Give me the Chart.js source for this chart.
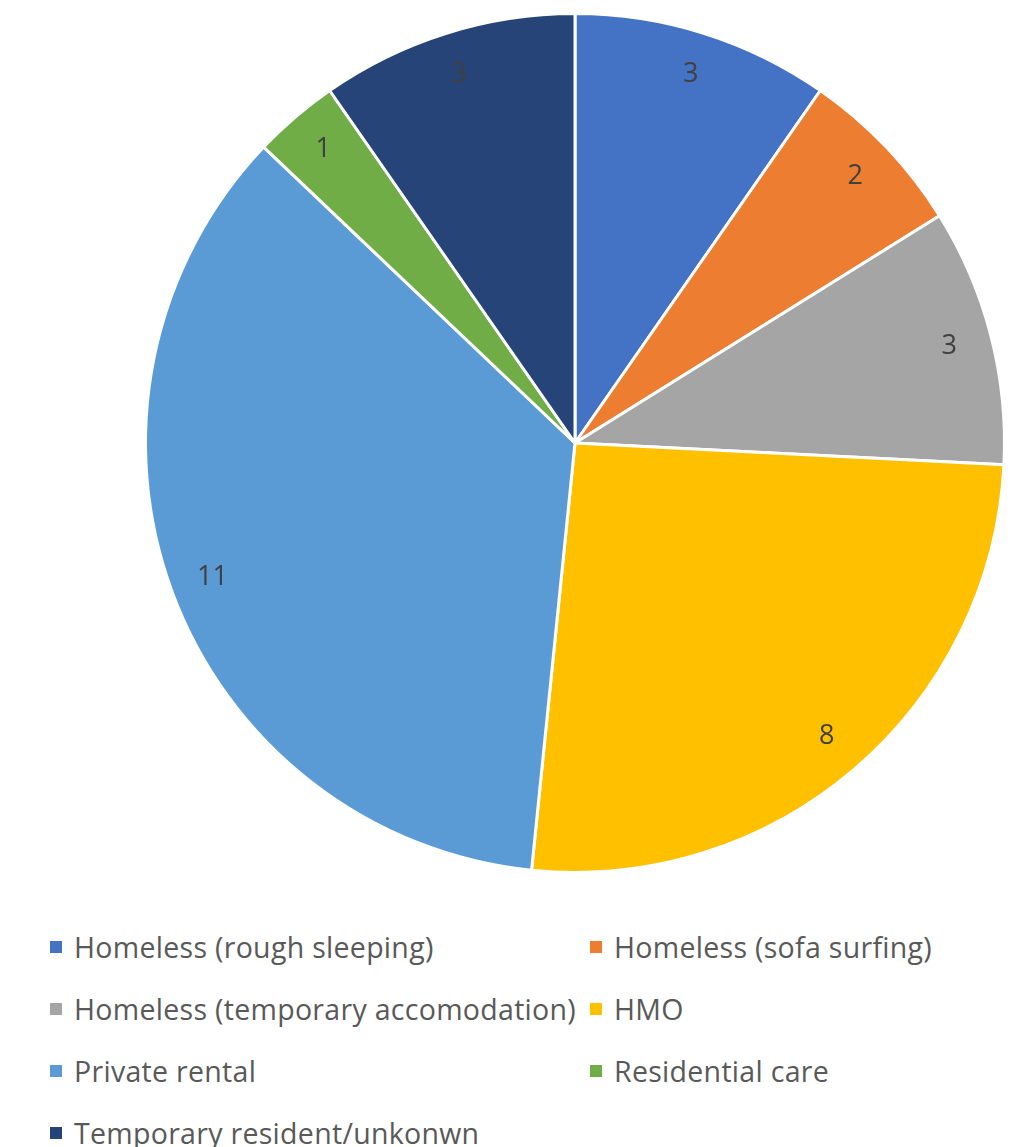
<!DOCTYPE html>
<html lang="en">
<head>
  <meta charset="UTF-8">
  <title>Housing status</title>
  <script src="https://cdn.jsdelivr.net/npm/chart.js"></script>
  <style>
    body { margin: 0; background: #fff; font-family: "Open Sans", "Noto Sans", sans-serif; }
    #wrap { position: relative; width: 1011px; height: 886px; }
    #legend { position: relative; width: 1011px; height: 261px; }
    .item { position: absolute; display: flex; align-items: center; color: #595959; font-size: 28.5px; letter-spacing: 0.3px; white-space: nowrap; }
    .box { width: 12px; height: 12px; margin-right: 12px; }
  </style>
</head>
<body>
  <div id="wrap"><canvas id="pie" width="1011" height="886"></canvas></div>
  <div id="legend"></div>

  <script>
    const categories = [
      'Homeless (rough sleeping)',
      'Homeless (sofa surfing)',
      'Homeless (temporary accomodation)',
      'HMO',
      'Private rental',
      'Residential care',
      'Temporary resident/unkonwn'
    ];
    const counts = [3, 2, 3, 8, 11, 1, 3];
    const colours = ['#4472C4', '#ED7D31', '#A5A5A5', '#FFC000', '#5B9BD5', '#70AD47', '#264478'];

    // value labels drawn near the rim of each slice
    const valueLabels = {
      id: 'valueLabels',
      afterDatasetsDraw(chart) {
        const ctx = chart.ctx;
        const meta = chart.getDatasetMeta(0);
        ctx.save();
        ctx.font = '27px "Open Sans", "Noto Sans", sans-serif';
        ctx.fillStyle = '#404040';
        ctx.textAlign = 'center';
        ctx.textBaseline = 'middle';
        meta.data.forEach((arc, i) => {
          const mid = (arc.startAngle + arc.endAngle) / 2;
          const r = arc.outerRadius * 0.9;
          ctx.fillText(String(counts[i]), arc.x + Math.cos(mid) * r, arc.y + Math.sin(mid) * r);
        });
        ctx.restore();
      }
    };

    new Chart(document.getElementById('pie').getContext('2d'), {
      type: 'pie',
      data: {
        labels: categories,
        datasets: [{
          data: counts,
          backgroundColor: colours,
          borderColor: '#ffffff',
          borderWidth: 3,
          hoverOffset: 0
        }]
      },
      options: {
        responsive: false,
        animation: false,
        layout: { padding: { left: 144, right: 5, top: 12, bottom: 12 } },
        plugins: {
          legend: { display: false },
          tooltip: { enabled: false }
        }
      },
      plugins: [valueLabels]
    });

    // two-column legend underneath
    const legend = document.getElementById('legend');
    const colX = [50, 590];
    categories.forEach((name, i) => {
      const item = document.createElement('div');
      item.className = 'item';
      item.style.left = colX[i % 2] + 'px';
      item.style.top = (Math.floor(i / 2) * 62 + 42) + 'px';
      item.style.height = '38px';
      item.innerHTML = '<span class="box" style="background:' + colours[i] + '"></span>' + name;
      legend.appendChild(item);
    });
  </script>
</body>
</html>
